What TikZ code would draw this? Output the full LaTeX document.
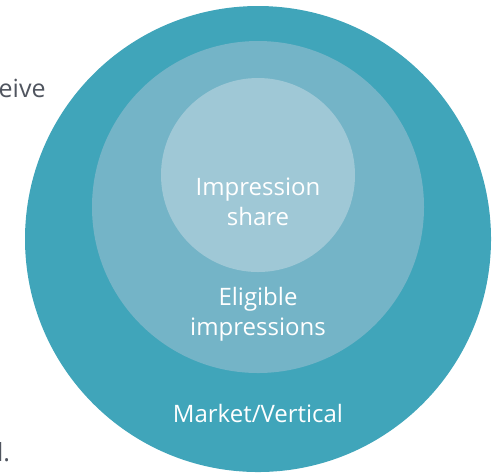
\documentclass[tikz,border=0pt]{standalone}
\usepackage{fontspec}
\setmainfont{Open Sans}
\usetikzlibrary{positioning}

\definecolor{outerteal}{RGB}{64,165,186}
\definecolor{midteal}{RGB}{116,180,199}
\definecolor{innerteal}{RGB}{159,200,214}
\definecolor{greytext}{RGB}{80,85,95}

\begin{document}
\begin{tikzpicture}[x=0.5pt, y=-0.5pt,
    label/.style={text=white, align=center, inner sep=0pt, font=\fontsize{12}{15}\selectfont},
    side/.style={text=greytext, inner sep=0pt, font=\fontsize{12.5}{15}\selectfont}]
    \useasboundingbox (0,0) rectangle (501,473);

    % nested circles
    \fill[outerteal] (258,239) circle[radius=233];
    \fill[midteal] (258,207) circle[radius=166];
    \fill[innerteal] (258,175) circle[radius=97];

    % base sits on the last line
    \node[label, anchor=base] (share) at (258,225) {Impression\\share};
    \node[label, anchor=base] (eligible) at (258,335) {Eligible\\impressions};
    \node[label, anchor=base] (market) at (258,422) {Market/Vertical};

    % text running off the left edge
    \node[side, anchor=base east] (eive) at (46,97) {receive};
    \node[side, anchor=base east] (dot) at (10.5,461) {al.};
\end{tikzpicture}
\end{document}
